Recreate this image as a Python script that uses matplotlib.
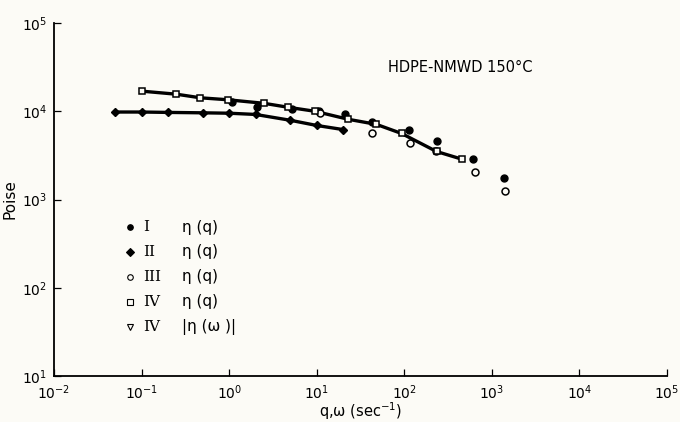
import numpy as np
import matplotlib
matplotlib.use("Agg")
import matplotlib.pyplot as plt

# (q in sec^-1, viscosity in poise)
q_I = [1.07, 2.1, 5.2, 10.5, 20.8, 43, 112, 233, 615, 1380]
eta_I = [12600, 11100, 10500, 10000, 9250, 7500, 6080, 4570, 2850, 1730]

q_II = [0.05, 0.1, 0.2, 0.5, 1.0, 2.0, 5.0, 10.0, 20.0]
eta_II = [9800, 9800, 9700, 9600, 9500, 9200, 7900, 6900, 6200]

q_III = [11, 43, 115, 227, 645, 1410]
eta_III = [9500, 5600, 4330, 3500, 2030, 1260]

q_IV = [0.1, 0.25, 0.47, 0.96, 2.5, 4.7, 9.5, 23, 48, 93, 233, 461]
eta_IV = [16900, 15600, 14200, 13500, 12300, 11100, 10000, 8100, 7100, 5600, 3500, 2850]

xticks = [1e-2, 1e-1, 1e0, 1e1, 1e2, 1e3, 1e4, 1e5]
yticks = [1e1, 1e2, 1e3, 1e4, 1e5]
legend_rows = [("o", "k", "I", "η (q)"),
               ("D", "k", "II", "η (q)"),
               ("o", "none", "III", "η (q)"),
               ("s", "none", "IV", "η (q)"),
               ("v", "none", "IV", "|η (ω )|")]

paper = "#fcfbf6"
fig = plt.figure(figsize=(6.8, 4.22), dpi=100, facecolor=paper)
ax = fig.add_axes([0.0794, 0.109, 0.9016, 0.8365], facecolor=paper)

# fitted curves drawn through series II and IV
ax.plot(q_IV, eta_IV, "-", color="k", lw=2.4, zorder=2)
ax.plot(q_II, eta_II, "-", color="k", lw=2.4, zorder=2)

ax.plot(q_I, eta_I, "o", color="k", ms=5, zorder=3, ls="none")
ax.plot(q_II, eta_II, "D", color="k", ms=4.2, zorder=3, ls="none")
ax.plot(q_III, eta_III, "o", mfc=paper, mec="k", mew=1.1, ms=5, zorder=4, ls="none")
ax.plot(q_IV, eta_IV, "s", mfc=paper, mec="k", mew=1.1, ms=4.8, zorder=4, ls="none")

ax.set_xscale("log")
ax.set_yscale("log")
ax.set_xlim(1e-2, 1e5)
ax.set_ylim(1e1, 1e5)
ax.set_xticks(xticks)
ax.set_yticks(yticks)
ax.minorticks_off()
ax.tick_params(direction="in", length=5, width=0.9, labelsize=10)
ax.tick_params(axis="x", pad=5)
ax.tick_params(axis="y", pad=5)
for s in ["top", "right"]:
    ax.spines[s].set_visible(False)
for s in ["left", "bottom"]:
    ax.spines[s].set_linewidth(1.3)

ax.set_xlabel("q,ω (sec$^{-1}$)", fontsize=10.5, labelpad=-1)
ax.set_ylabel("Poise", fontsize=11, labelpad=3)

ax.text(0.545, 0.86, "HDPE-NMWD 150°C", transform=ax.transAxes, fontsize=10.5)

# hand drawn key
y0, dy = 0.422, 0.0705
for i, (mk, fc, num, lab) in enumerate(legend_rows):
    y = y0 - i * dy
    ax.plot([0.124], [y], mk, transform=ax.transAxes, color="k",
            mfc=fc if fc != "none" else paper, mec="k", ms=4, mew=0.8, clip_on=False)
    ax.text(0.145, y, num, transform=ax.transAxes, family="DejaVu Serif",
            fontsize=11, va="center")
    ax.text(0.208, y, lab, transform=ax.transAxes, fontsize=11, va="center")

fig.savefig("out.png", dpi=100, facecolor=paper)
